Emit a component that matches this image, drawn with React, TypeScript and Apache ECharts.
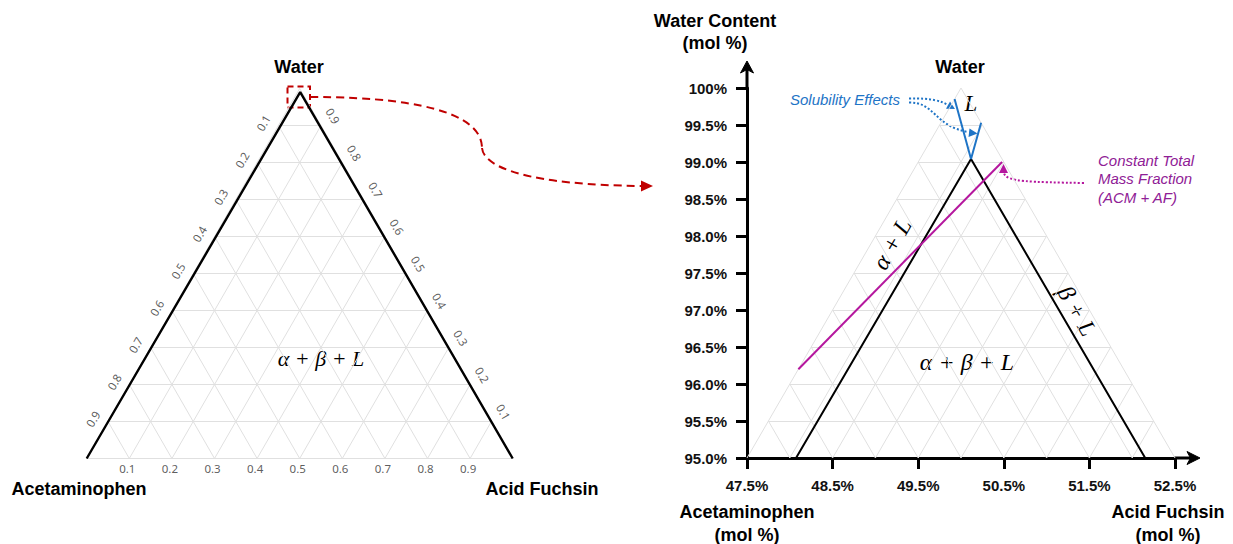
import React, { useEffect, useRef } from 'react';
import * as echarts from 'echarts';

type Comp = { water: number; acm: number; af: number };

// ---- data (mol %) ----
const eutectic: Comp = { water: 99.04, acm: 0.363, af: 0.597 };
const acmCorner: Comp = { water: 0, acm: 100, af: 0 };
const afCorner: Comp = { water: 0, acm: 0, af: 100 };
const acmSolubilityEnd: Comp = { water: 99.85, acm: 0.15, af: 0 };
const afSolubilityEnd: Comp = { water: 99.53, acm: 0, af: 0.47 };
const massFractionLine: Comp[] = [
  { water: 99.0, acm: 0.02, af: 0.98 },
  { water: 96.2, acm: 3.8, af: 0 },
];
const overviewTicks = [0.1, 0.2, 0.3, 0.4, 0.5, 0.6, 0.7, 0.8, 0.9];
const zoomXTicks = [47.5, 48.5, 49.5, 50.5, 51.5, 52.5];
const zoomYTicks = [95, 95.5, 96, 96.5, 97, 97.5, 98, 98.5, 99, 99.5, 100];

// ---- ternary -> cartesian ----
const toOverview = (p: Comp) => [(p.af + p.water / 2) / 100, p.water / 100];
const toZoom = (p: Comp) => [50 + (p.af - p.acm) / 2, p.water];

function lattice(top: number, bottom: number, steps: number[], conv: (p: Comp) => number[], skipBase: boolean) {
  const span = top - bottom;
  const segs: { coords: number[][] }[] = [];
  for (const c of steps) {
    const w = bottom + c;
    if (!(skipBase && c === 0)) {
      segs.push({ coords: [conv({ water: w, acm: top - w, af: 0 }), conv({ water: w, acm: 0, af: top - w })] });
    }
    segs.push({ coords: [conv({ water: top - c, acm: 0, af: c }), conv({ water: bottom, acm: span - c, af: c })] });
    segs.push({ coords: [conv({ water: top - c, acm: c, af: 0 }), conv({ water: bottom, acm: c, af: span - c })] });
  }
  return segs;
}

const overviewLattice = lattice(100, 0, [0, ...overviewTicks].map((v) => v * 100), toOverview, false);
const zoomLattice = lattice(100, 95, zoomYTicks.slice(0, -1).map((v) => v - 95), toZoom, true);

const leftTickPts = overviewTicks.map((v) => [...toOverview({ water: 100 - v * 100, acm: v * 100, af: 0 }), v]);
const rightTickPts = overviewTicks.map((v) => [...toOverview({ water: v * 100, acm: 0, af: 100 - v * 100 }), v]);
const bottomTickPts = overviewTicks.map((v) => [...toOverview({ water: 0, acm: 100 - v * 100, af: v * 100 }), v]);

const SANS = '"Liberation Sans", Arial, sans-serif';
const SERIF = '"Liberation Serif", "DejaVu Serif", serif';
const RED = '#c00000';
const BLUE = '#1e74c6';
const MAG = '#b5179e';
const MAGTXT = '#8f2096';
const TITLE = `bold 18px ${SANS}`;

function txt(text: string, x: number, y: number, font: string, fill = '#000', extra: any = {}) {
  return {
    type: 'text',
    x,
    y,
    ...extra,
    style: { text, font, fill, align: 'center', verticalAlign: 'middle', textAlign: 'center', textVerticalAlign: 'middle', ...(extra.style || {}) },
  };
}

// label offsets are applied in the rotated frame: convert a screen offset into it
function localOffset(deg: number, dx: number, dy: number) {
  const t = (deg * Math.PI) / 180;
  return [dx * Math.cos(t) - dy * Math.sin(t), dx * Math.sin(t) + dy * Math.cos(t)];
}

function tickLabelSeries(data: number[][], rotate: number, screenOffset: number[]) {
  return {
    type: 'scatter',
    xAxisIndex: 0,
    yAxisIndex: 0,
    data,
    symbolSize: 1,
    itemStyle: { color: 'rgba(0,0,0,0)' },
    silent: true,
    label: {
      show: true,
      position: 'inside',
      rotate,
      offset: localOffset(rotate, screenOffset[0], screenOffset[1]),
      formatter: (p: any) => p.value[2].toFixed(1),
      fontSize: 11.5,
      color: '#333',
      fontFamily: '"Noto Sans", "Open Sans", sans-serif',
    },
  };
}

export default function App() {
  const ref = useRef<HTMLDivElement>(null);
  useEffect(() => {
    if (!ref.current) return;
    const chart = echarts.init(ref.current, undefined, { renderer: 'svg' });
    const axisLabelStyle = { fontWeight: 'bold', fontSize: 15, color: '#111', fontFamily: SANS, margin: 20 };
    chart.setOption({
      animation: false,
      backgroundColor: '#fff',
      grid: [
        { left: 86.7, top: 88.5, width: 426, height: 370 },
        { left: 747, top: 88, width: 428, height: 370 },
      ],
      xAxis: [
        { gridIndex: 0, type: 'value', min: 0, max: 1, show: false },
        {
          gridIndex: 1,
          type: 'value',
          min: 47.5,
          max: 52.5,
          axisLine: { show: true, lineStyle: { color: '#000', width: 3 } },
          axisTick: { show: true, length: 11, lineStyle: { color: '#000', width: 3 }, customValues: zoomXTicks },
          axisLabel: { ...axisLabelStyle, customValues: zoomXTicks, formatter: (v: number) => v.toFixed(1) + '%' },
          splitLine: { show: false },
        },
      ],
      yAxis: [
        { gridIndex: 0, type: 'value', min: 0, max: 1, show: false },
        {
          gridIndex: 1,
          type: 'value',
          min: 95,
          max: 100,
          axisLine: { show: true, lineStyle: { color: '#000', width: 3 } },
          axisTick: { show: true, length: 11, lineStyle: { color: '#000', width: 3 }, customValues: zoomYTicks },
          axisLabel: {
            ...axisLabelStyle,
            customValues: zoomYTicks,
            formatter: (v: number) => (v === 100 ? '100%' : v.toFixed(1) + '%'),
          },
          splitLine: { show: false },
        },
      ],
      series: [
        {
          type: 'lines',
          coordinateSystem: 'cartesian2d',
          xAxisIndex: 0,
          yAxisIndex: 0,
          data: overviewLattice,
          silent: true,
          lineStyle: { color: '#e0e0e0', width: 1, opacity: 1 },
          z: 1,
        },
        {
          type: 'lines',
          coordinateSystem: 'cartesian2d',
          xAxisIndex: 1,
          yAxisIndex: 1,
          data: zoomLattice,
          silent: true,
          lineStyle: { color: '#e0e0e0', width: 1, opacity: 1 },
          z: 1,
        },
        {
          type: 'line',
          xAxisIndex: 0,
          yAxisIndex: 0,
          data: [toOverview(acmCorner), toOverview(eutectic), toOverview(afCorner)],
          symbol: 'none',
          lineStyle: { color: '#000', width: 2.4 },
          z: 3,
        },
        {
          type: 'line',
          xAxisIndex: 1,
          yAxisIndex: 1,
          data: [toZoom(acmCorner), toZoom(eutectic), toZoom(afCorner)],
          symbol: 'none',
          clip: true,
          lineStyle: { color: '#000', width: 2 },
          z: 3,
        },
        {
          type: 'line',
          xAxisIndex: 1,
          yAxisIndex: 1,
          data: [toZoom(acmSolubilityEnd), toZoom(eutectic), toZoom(afSolubilityEnd)],
          symbol: 'none',
          lineStyle: { color: BLUE, width: 2 },
          z: 4,
        },
        {
          type: 'line',
          xAxisIndex: 1,
          yAxisIndex: 1,
          data: massFractionLine.map(toZoom),
          symbol: 'none',
          lineStyle: { color: MAG, width: 2 },
          z: 4,
        },
        tickLabelSeries(leftTickPts, 60, [-15, -2.5]),
        tickLabelSeries(rightTickPts, -60, [12, -9.5]),
        tickLabelSeries(bottomTickPts, 0, [-2, 10]),
      ],
      graphic: [
        // corner titles
        txt('Water', 299, 67, TITLE),
        txt('Acetaminophen', 79, 489, TITLE),
        txt('Acid Fuchsin', 542, 489, TITLE),
        txt('Water', 960, 67, TITLE),
        txt('Water Content', 715, 21, TITLE),
        txt('(mol %)', 715, 43, TITLE),
        txt('Acetaminophen', 747, 512, TITLE),
        txt('(mol %)', 747, 535, TITLE),
        txt('Acid Fuchsin', 1168, 512, TITLE),
        txt('(mol %)', 1168, 535, TITLE),
        // region labels
        txt('α + β + L', 321, 358, `italic 22px ${SERIF}`),
        txt('α + β + L', 967, 362, `italic 24px ${SERIF}`),
        txt('α + L', 892, 244, `italic 24px ${SERIF}`, '#000', { rotation: Math.PI / 3 }),
        txt('β + L', 1077, 311, `italic 24px ${SERIF}`, '#000', { rotation: -Math.PI / 3 }),
        txt('L', 971, 103, `italic 23px ${SERIF}`),
        // annotations
        txt('Solubility Effects', 845, 99, `italic 15px ${SANS}`, BLUE),
        txt('Constant Total', 1098, 160, `italic 15px ${SANS}`, MAGTXT, { style: { align: 'left', textAlign: 'left' } }),
        txt('Mass Fraction', 1098, 178.5, `italic 15px ${SANS}`, MAGTXT, { style: { align: 'left', textAlign: 'left' } }),
        txt('(ACM + AF)', 1098, 197, `italic 15px ${SANS}`, MAGTXT, { style: { align: 'left', textAlign: 'left' } }),
        // red zoom indicator
        {
          type: 'rect',
          shape: { x: 287.5, y: 86.5, width: 22.5, height: 21 },
          style: { stroke: RED, fill: 'none', lineWidth: 2, lineDash: [6, 4] },
        },
        {
          type: 'bezierCurve',
          shape: { x1: 310, y1: 97, cpx1: 440, cpy1: 97, cpx2: 482, cpy2: 120, x2: 482, y2: 148 },
          style: { stroke: RED, fill: 'none', lineWidth: 2, lineDash: [8, 5] },
        },
        {
          type: 'bezierCurve',
          shape: { x1: 482, y1: 148, cpx1: 484, cpy1: 168, cpx2: 530, cpy2: 185, x2: 643, y2: 186 },
          style: { stroke: RED, fill: 'none', lineWidth: 2, lineDash: [8, 5] },
        },
        {
          type: 'polygon',
          shape: { points: [[653, 186], [641, 180.5], [641, 191.5]] },
          style: { fill: RED, stroke: 'none' },
        },
        // blue dotted arrows
        {
          type: 'bezierCurve',
          shape: { x1: 909, y1: 98.5, cpx1: 932, cpy1: 98, cpx2: 941, cpy2: 101, x2: 948, y2: 105 },
          style: { stroke: BLUE, fill: 'none', lineWidth: 2, lineDash: [2, 2] },
        },
        {
          type: 'polygon',
          shape: { points: [[955, 109], [946, 108.8], [950, 101.5]] },
          style: { fill: BLUE, stroke: 'none' },
        },
        {
          type: 'bezierCurve',
          shape: { x1: 909, y1: 102.5, cpx1: 935, cpy1: 102, cpx2: 934, cpy2: 126, x2: 968, y2: 132 },
          style: { stroke: BLUE, fill: 'none', lineWidth: 2, lineDash: [2, 2] },
        },
        {
          type: 'polygon',
          shape: { points: [[977.5, 133.5], [968.5, 137], [969.5, 128.5]] },
          style: { fill: BLUE, stroke: 'none' },
        },
        // magenta dotted arrow
        {
          type: 'bezierCurve',
          shape: { x1: 1084, y1: 183, cpx1: 1030, cpy1: 182, cpx2: 1006, cpy2: 182, x2: 1004, y2: 173 },
          style: { stroke: MAG, fill: 'none', lineWidth: 2, lineDash: [2, 2] },
        },
        {
          type: 'polygon',
          shape: { points: [[1003.5, 164], [999, 173], [1008, 173]] },
          style: { fill: MAG, stroke: 'none' },
        },
        // axis arrow extensions
        { type: 'line', shape: { x1: 747, y1: 89, x2: 747, y2: 68 }, style: { stroke: '#000', lineWidth: 3 } },
        {
          type: 'polygon',
          shape: { points: [[747, 61], [740.5, 73], [747, 69.5], [753.5, 73]] },
          style: { fill: '#000', stroke: '#000', lineWidth: 1 },
        },
        { type: 'line', shape: { x1: 1174, y1: 458, x2: 1192, y2: 458 }, style: { stroke: '#000', lineWidth: 3 } },
        {
          type: 'polygon',
          shape: { points: [[1200, 458], [1187, 451.5], [1190.5, 458], [1187, 464.5]] },
          style: { fill: '#000', stroke: '#000', lineWidth: 1 },
        },
      ],
    });
    return () => chart.dispose();
  }, []);
  return (
    <div
      ref={ref}
      style={{ position: 'fixed', left: 0, top: 0, width: 1233, height: 544, background: '#fff' }}
    />
  );
}
